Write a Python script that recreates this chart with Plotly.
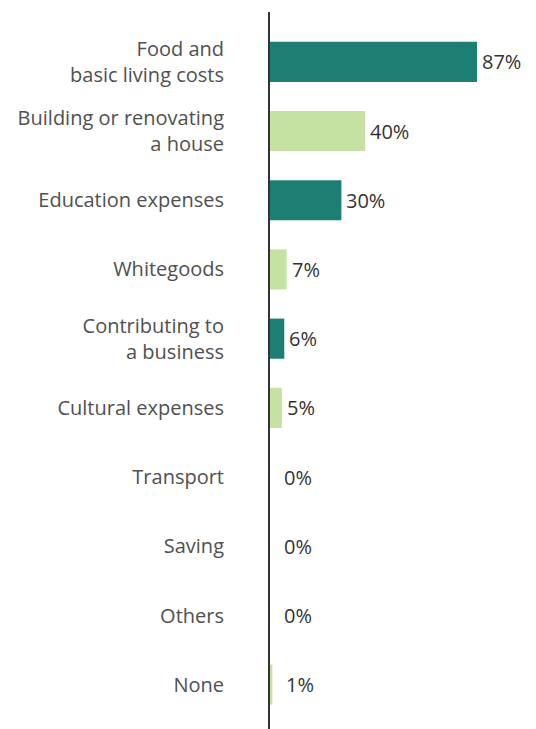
import plotly.graph_objects as go

categories = [
    "Food and<br>basic living costs",
    "Building or renovating<br>a house",
    "Education expenses",
    "Whitegoods",
    "Contributing to<br>a business",
    "Cultural expenses",
    "Transport",
    "Saving",
    "Others",
    "None",
]
values = [87, 40, 30, 7, 6, 5, 0, 0, 0, 1]
value_labels = ["87%", "40%", "30%", "7%", "6%", "5%", "0%", "0%", "0%", "1%"]

DARK = "#1d7f73"
LIGHT = "#c6e2a3"
bar_colors = [DARK if i % 2 == 0 else LIGHT for i in range(len(categories))]

fig = go.Figure(
    go.Bar(
        x=values,
        y=categories,
        orientation="h",
        marker=dict(color=bar_colors, line=dict(width=0)),
        width=0.58,
        cliponaxis=False,
        hoverinfo="skip",
    )
)

# value labels just to the right of each bar end; tiny bars get a wider gap
for cat, val, lab in zip(categories, values, value_labels):
    fig.add_annotation(
        x=val,
        y=cat,
        text=lab,
        showarrow=False,
        xanchor="left",
        yanchor="middle",
        xshift=3 if val > 1 else 12,
        font=dict(family="Open Sans", size=20, color="#333333"),
    )

fig.update_layout(
    width=536,
    height=729,
    margin=dict(l=270, r=10, t=12, b=0),
    paper_bgcolor="white",
    plot_bgcolor="white",
    showlegend=False,
    font=dict(family="Open Sans", size=20, color="#505050"),
    xaxis=dict(
        range=[0, 107.6],
        visible=False,
        fixedrange=True,
    ),
    yaxis=dict(
        type="category",
        range=[9.64, -0.72],
        showline=True,
        linecolor="#333333",
        linewidth=2,
        showgrid=False,
        zeroline=False,
        ticks="",
        ticklabelstandoff=40,
        tickfont=dict(family="Open Sans", size=20, color="#505050"),
        fixedrange=True,
    ),
)

fig.write_html("out.html")
